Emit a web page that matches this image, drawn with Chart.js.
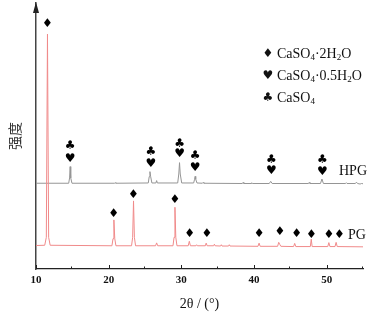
<!DOCTYPE html>
<html><head><meta charset="utf-8">
<script src="https://cdn.jsdelivr.net/npm/chart.js@4"></script>
<style>html,body{margin:0;padding:0;background:#fff}</style>
</head><body><canvas id="c" width="369" height="313"></canvas>
<script>
// ---- data ----
const pgX = [10.0,11.2,11.42,11.58,11.74,11.95,20.45,20.6,20.72,20.84,21.0,23.15,23.3,23.42,23.54,23.7,26.45,26.6,26.75,28.85,29.0,29.12,29.24,29.4,30.95,31.1,31.25,32.0,32.1,32.2,33.3,33.42,33.55,34.45,34.55,34.65,35.4,35.5,35.6,36.5,36.6,36.7,40.55,40.7,40.85,43.25,43.4,43.55,43.7,45.45,45.6,45.75,47.75,47.88,48.0,50.15,50.3,50.45,51.15,51.3,51.45,55.0];
const pgY = [8.9,9.0,12,89.0,12,9.0,8.8,11.5,18.6,11.5,8.8,8.8,12,25.8,12,8.8,8.8,9.9,8.8,8.8,12,23.4,12,8.8,8.8,10.5,8.8,8.8,9.2,8.8,8.8,9.8,8.8,8.8,9.4,8.8,8.7,9.2,8.7,8.7,9.2,8.7,8.6,9.8,8.6,8.6,10.1,9.3,8.6,8.5,9.7,8.5,8.5,11.3,8.5,8.5,10.0,8.5,8.5,10.1,8.5,8.4];
const hpgX = [10.0,14.5,14.62,14.7,14.78,14.95,20.8,20.9,21.0,25.45,25.58,25.68,25.78,25.95,26.5,26.6,26.7,29.5,29.65,29.75,29.85,30.05,31.7,31.82,31.9,31.98,32.15,32.9,33.0,33.1,38.4,38.5,38.6,39.6,39.7,39.8,42.1,42.3,42.5,47.5,47.6,47.7,49.15,49.35,49.55,52.6,52.7,52.8,53.95,54.1,54.25,54.6,54.8,55.0];
const hpgY = [32.5,32.5,34.5,38.8,34.5,32.5,32.5,32.7,32.5,32.6,35,36.9,35,32.6,32.6,33.5,32.6,32.6,36,40.3,36,32.6,32.6,34,35.1,34,32.6,32.5,32.8,32.5,32.4,32.8,32.4,32.4,32.7,32.4,32.4,33.2,32.4,32.4,32.8,32.4,32.4,34.1,32.4,32.4,32.7,32.4,32.4,32.9,32.4,32.2,32.4,32.3];
// phase markers
const dihydrateX = [11.56,20.7,23.4,29.1,31.15,33.5,40.7,43.55,45.85,47.9,50.3,51.75];
const dihydrateY = [92.8,20.8,28.0,26.3,13.3,13.3,13.3,14.0,13.3,12.9,12.9,12.9];
const hemihydrateX = [14.7,25.8,29.77,31.9,42.4,49.4];
const hemihydrateY = [41.8,39.8,43.6,38.5,37.1,36.9];
const anhydriteX = [14.7,25.8,29.77,31.9,42.4,49.4];
const anhydriteY = [46.7,44.4,47.6,42.8,41.3,41.3];
const xMajorTicks = [10,20,30,40,50];
const xMinorTicks = [15,25,35,45,55];
const seriesNames = ['HPG','PG'];
const legendItems = [
  {sym:'\u2666', parts:[['CaSO',0],['4',1],['\u00B72H',0],['2',1],['O',0]]},
  {sym:'\u2665', parts:[['CaSO',0],['4',1],['\u00B70.5H',0],['2',1],['O',0]]},
  {sym:'\u2663', parts:[['CaSO',0],['4',1]]}
];
const xTitle = '2\u03B8 / (\u00B0)';
const yTitle = '强度';

const toPts = (xs, ys) => xs.map((v, i) => ({x: v, y: ys[i]}));

const deco = {
  id: 'deco',
  afterDraw(chart) {
    const {ctx, chartArea: ca} = chart;
    const xs = chart.scales.x, ys = chart.scales.y;
    ctx.save();
    // inward ticks
    ctx.strokeStyle = '#222'; ctx.lineWidth = 1;
    xMajorTicks.forEach(v => {
      const px = Math.round(xs.getPixelForValue(v)) + 0.5;
      ctx.beginPath(); ctx.moveTo(px, ca.bottom); ctx.lineTo(px, ca.bottom - 4); ctx.stroke();
    });
    xMinorTicks.forEach(v => {
      const px = Math.round(xs.getPixelForValue(v)) - 0.5;
      ctx.beginPath(); ctx.moveTo(px, ca.bottom); ctx.lineTo(px, ca.bottom - 2.5); ctx.stroke();
    });
    // arrow head on y axis
    const ax = ca.left;
    ctx.fillStyle = '#222';
    ctx.beginPath(); ctx.moveTo(ax, ca.top - 1); ctx.lineTo(ax - 3, ca.top + 10); ctx.lineTo(ax + 3, ca.top + 10); ctx.closePath(); ctx.fill();
    // phase markers
    ctx.fillStyle = '#000';
    ctx.textAlign = 'center'; ctx.textBaseline = 'middle';
    ctx.font = '12px "DejaVu Sans"';
    dihydrateX.forEach((v, i) => ctx.fillText('\u2666', xs.getPixelForValue(v), ys.getPixelForValue(dihydrateY[i])));
    hemihydrateX.forEach((v, i) => ctx.fillText('\u2665', xs.getPixelForValue(v), ys.getPixelForValue(hemihydrateY[i])));
    anhydriteX.forEach((v, i) => ctx.fillText('\u2663', xs.getPixelForValue(v), ys.getPixelForValue(anhydriteY[i])));
    // series labels
    ctx.textAlign = 'left';
    ctx.fillStyle = '#111';
    ctx.font = '14px "Liberation Serif"';
    ctx.fillText(seriesNames[0], 339, 171);
    ctx.fillText(seriesNames[1], 348, 235);
    // legend
    const lx = 268, ly = [54, 76, 98];
    legendItems.forEach((it, k) => {
      ctx.font = '12px "DejaVu Sans"';
      ctx.textAlign = 'center';
      ctx.fillText(it.sym, lx, ly[k]);
      ctx.textAlign = 'left';
      let cx = lx + 9;
      it.parts.forEach(([t, sub]) => {
        ctx.font = sub ? '9px "Liberation Serif"' : '14px "Liberation Serif"';
        ctx.fillText(t, cx, ly[k] + (sub ? 4 : 0));
        cx += ctx.measureText(t).width;
      });
    });
    ctx.restore();
  }
};

new Chart(document.getElementById('c'), {
  type: 'line',
  data: {
    datasets: [
      {label: seriesNames[1], data: toPts(pgX, pgY), borderColor: '#f08a8a', borderWidth: 1, pointRadius: 0, tension: 0},
      {label: seriesNames[0], data: toPts(hpgX, hpgY), borderColor: '#959595', borderWidth: 1, pointRadius: 0, tension: 0}
    ]
  },
  options: {
    responsive: false,
    devicePixelRatio: 1,
    animation: false,
    layout: {padding: {top: 3, right: 6, left: 0, bottom: 0}},
    plugins: {legend: {display: false}, tooltip: {enabled: false}},
    scales: {
      x: {
        type: 'linear', min: 10, max: 55,
        afterBuildTicks: s => { s.ticks = xMajorTicks.map(v => ({value: v})); },
        afterFit: s => { s.height = 44; },
        grid: {display: false, drawTicks: false},
        border: {display: true, color: '#222', width: 1.2},
        ticks: {color: '#111', padding: 5, maxRotation: 0, font: {family: 'Liberation Serif', size: 11, weight: 'bold'}},
        title: {display: true, text: xTitle, color: '#111', padding: {top: 0, bottom: 0}, font: {family: 'Liberation Serif', size: 14}}
      },
      y: {
        type: 'linear', min: 0, max: 100.8,
        afterFit: s => { s.width = 36; },
        grid: {display: false},
        border: {display: true, color: '#444', width: 1.5},
        ticks: {display: false},
        title: {display: true, text: yTitle, color: '#333', padding: {top: 6, bottom: 0}, font: {family: 'Noto Sans CJK SC', size: 14}}
      }
    }
  },
  plugins: [deco]
});
</script>
</body></html>
